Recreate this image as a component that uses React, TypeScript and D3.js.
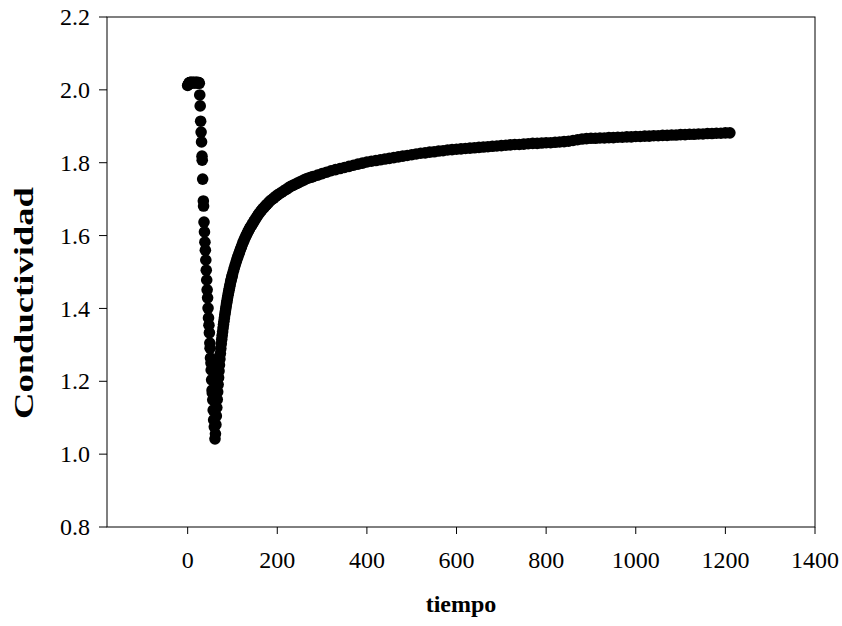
import React from "react";
import * as d3 from "d3";

// [time, conductivity] readings
const flatSeries: [number, number][] = [
  [0, 2.012], [1, 2.014], [2, 2.016], [3, 2.018], [4, 2.02], [5, 2.02], [6, 2.02], [7, 2.021], [8, 2.02],
  [9, 2.02], [10, 2.019], [11, 2.02], [12, 2.021], [13, 2.02], [14, 2.02], [15, 2.02], [16, 2.019], [17, 2.02],
  [18, 2.02], [19, 2.021], [20, 2.02], [21, 2.02], [22, 2.02], [23, 2.019], [24, 2.02], [25, 2.02], [26, 2.018],
];

const dropSeries: [number, number][] = [
  [27, 1.986], [28, 1.956], [29, 1.914], [30, 1.884], [31, 1.857], [32, 1.818], [32.5, 1.807], [33.5, 1.755],
  [35, 1.695], [35.5, 1.681], [36.5, 1.637], [37.5, 1.61], [38.5, 1.582], [39.5, 1.56], [40.5, 1.533],
  [41.5, 1.505], [42.5, 1.478], [43.5, 1.451], [44.5, 1.429], [45.5, 1.401], [46.5, 1.374], [47.5, 1.354],
  [48.5, 1.333], [49.5, 1.305], [50, 1.291], [51, 1.264], [52, 1.25], [52.5, 1.231], [53.5, 1.204],
  [54.5, 1.176], [55, 1.168], [56, 1.149], [57, 1.121], [58, 1.094], [59.5, 1.075], [61, 1.042],
];

const recoverySeries: [number, number][] = [
  [62, 1.056], [63, 1.081], [64, 1.105], [65, 1.128], [66, 1.15], [67, 1.171], [68, 1.191], [69, 1.21],
  [70, 1.228], [71, 1.245], [72, 1.261], [73, 1.276], [74, 1.29], [75, 1.303], [76, 1.315], [77, 1.326],
  [78, 1.336], [79, 1.346], [80, 1.356], [81, 1.365], [82, 1.374], [83, 1.383], [84, 1.391], [85, 1.399],
  [86, 1.407], [87, 1.415], [88, 1.422], [89, 1.429], [90, 1.436], [91, 1.443], [92, 1.449], [93, 1.455],
  [94, 1.461], [95, 1.467], [96, 1.473], [97, 1.478], [98, 1.483], [99, 1.488], [100, 1.493], [102, 1.502],
  [104, 1.511], [106, 1.519], [108, 1.527], [110, 1.535], [112, 1.542], [114, 1.549], [116, 1.556],
  [118, 1.563], [120, 1.569], [122, 1.576], [124, 1.582], [126, 1.588], [128, 1.594], [130, 1.599],
  [132, 1.604], [134, 1.609], [136, 1.614], [138, 1.619], [140, 1.623], [142, 1.627], [144, 1.631],
  [146, 1.635], [148, 1.639], [150, 1.643], [153, 1.649], [156, 1.655], [159, 1.66], [162, 1.665],
  [165, 1.67], [168, 1.674], [171, 1.678], [174, 1.682], [177, 1.686], [180, 1.69], [184, 1.695],
  [188, 1.699], [192, 1.703], [196, 1.707], [200, 1.711], [205, 1.715], [210, 1.719], [215, 1.723],
  [220, 1.727], [225, 1.731], [230, 1.735], [235, 1.738], [240, 1.741], [245, 1.744], [250, 1.747],
  [255, 1.75], [260, 1.753], [265, 1.756], [270, 1.758], [275, 1.76], [280, 1.762], [290, 1.766],
  [300, 1.77], [310, 1.774], [320, 1.778], [330, 1.781], [340, 1.784], [350, 1.787], [360, 1.79],
  [370, 1.793], [380, 1.796], [390, 1.799], [400, 1.802], [410, 1.804], [420, 1.806], [430, 1.808],
  [440, 1.81], [450, 1.812], [460, 1.814], [470, 1.816], [480, 1.818], [490, 1.82], [500, 1.822],
  [510, 1.824], [520, 1.826], [530, 1.827], [540, 1.829], [550, 1.83], [560, 1.832], [570, 1.833],
  [580, 1.835], [590, 1.836], [600, 1.837], [610, 1.838], [620, 1.839], [630, 1.84], [640, 1.841],
  [650, 1.842], [660, 1.843], [670, 1.844], [680, 1.845], [690, 1.846], [700, 1.847], [710, 1.848],
  [720, 1.849], [730, 1.85], [740, 1.85], [750, 1.851], [760, 1.852], [770, 1.853], [780, 1.853],
  [790, 1.854], [800, 1.855], [810, 1.855], [820, 1.856], [830, 1.857], [840, 1.858], [850, 1.859],
  [860, 1.861], [870, 1.863], [880, 1.865], [890, 1.866], [900, 1.867], [910, 1.867], [920, 1.868],
  [930, 1.868], [940, 1.869], [950, 1.869], [960, 1.87], [970, 1.87], [980, 1.871], [990, 1.871],
  [1000, 1.872], [1010, 1.872], [1020, 1.873], [1030, 1.873], [1040, 1.874], [1050, 1.874],
  [1060, 1.875], [1070, 1.875], [1080, 1.876], [1090, 1.876], [1100, 1.877], [1110, 1.877],
  [1120, 1.878], [1130, 1.878], [1140, 1.879], [1150, 1.879], [1160, 1.88], [1170, 1.88],
  [1180, 1.881], [1190, 1.881], [1200, 1.882], [1210, 1.882],
];

const xTicks = [0, 200, 400, 600, 800, 1000, 1200, 1400];
const yTicks = [0.8, 1.0, 1.2, 1.4, 1.6, 1.8, 2.0, 2.2];
const xTitle = "tiempo";
const yTitle = "Conductividad";

const W = 842;
const H = 626;
const left = 107;
const right = 815;
const top = 17;
const bottom = 527;
const font = "'Liberation Serif', 'Times New Roman', serif";

export default function App() {
  const x = d3.scaleLinear().domain([-180, 1400]).range([left, right]);
  const y = d3.scaleLinear().domain([0.8, 2.2]).range([bottom, top]);

  const points = [...flatSeries, ...dropSeries, ...recoverySeries];

  return (
    <svg
      width={W}
      height={H}
      style={{ position: "absolute", left: 0, top: 0, background: "#fff" }}
      fontFamily={font}
    >
      <rect x={0} y={0} width={W} height={H} fill="#fff" />
      <rect x={left} y={top} width={right - left} height={bottom - top} fill="none" stroke="#000" strokeWidth={1} />
      {yTicks.map((v) => (
        <g key={"y" + v}>
          <line x1={left - 8} x2={left} y1={y(v)} y2={y(v)} stroke="#000" strokeWidth={1} />
          <text x={90} y={y(v)} dy="0.34em" textAnchor="end" fontSize={24} fill="#000">
            {v.toFixed(1)}
          </text>
        </g>
      ))}
      {xTicks.map((t) => (
        <g key={"x" + t}>
          <line x1={x(t)} x2={x(t)} y1={bottom} y2={bottom + 7} stroke="#000" strokeWidth={1} />
          <text x={x(t)} y={568} textAnchor="middle" fontSize={24} fill="#000">
            {t}
          </text>
        </g>
      ))}
      <text x={461} y={612} textAnchor="middle" fontSize={24} fontWeight="bold" fill="#000">
        {xTitle}
      </text>
      <text
        transform={`translate(33, 303) rotate(-90)`}
        textAnchor="middle"
        fontSize={28}
        fontWeight="bold"
        fill="#000"
        textLength={232}
        lengthAdjust="spacingAndGlyphs"
      >
        {yTitle}
      </text>
      <g>
        {points.map(([t, v], i) => (
          <circle key={i} cx={x(t)} cy={y(v)} r={5.8} fill="#000" />
        ))}
      </g>
    </svg>
  );
}
